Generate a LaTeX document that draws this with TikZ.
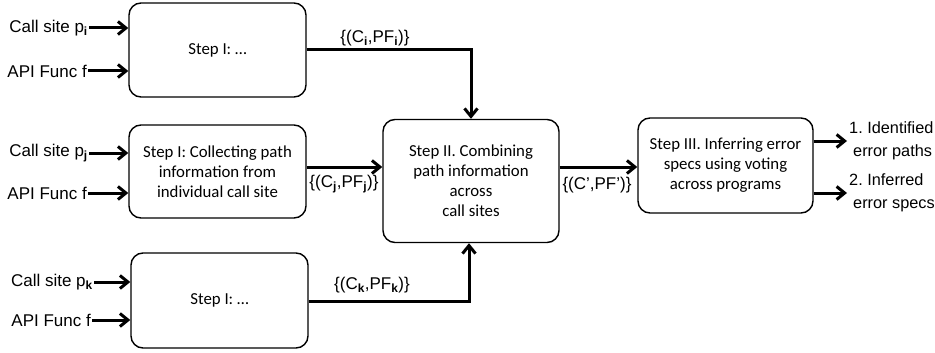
\documentclass[tikz,border=0pt]{standalone}
\usepackage{fontspec}
\setmainfont{Liberation Sans}
\newfontfamily\boxfont{Carlito}
\usetikzlibrary{arrows.meta,positioning}
\newcommand{\sub}[1]{\textsubscript{\textbf{#1}}}
\frenchspacing

\begin{document}
\begin{tikzpicture}[x=1pt,y=-1pt]
  \tikzset{stepbox/.style={draw,line width=1.4pt,rounded corners=12pt,align=center,
      font=\boxfont\fontsize{16.8}{20}\selectfont,inner sep=0pt},
    flow/.style={line width=3pt,-{Straight Barb[length=8pt,width=13pt,line width=3pt]}},
    lbl/.style={font=\fontsize{17}{21}\selectfont,inner sep=1pt},
    res/.style={font=\fontsize{16.3}{23}\selectfont,inner sep=0pt,anchor=west,align=left}}
  \useasboundingbox (0,0) rectangle (935,353);
  % step I boxes
  \node[stepbox,minimum width=177pt,minimum height=94pt] (S1-i) at (217.5,50) {Step I: \dots};
  \node[stepbox,minimum width=177pt,minimum height=93pt] (S1-j) at (217.5,171.5)
    {Step I: Collecting path\\information from\\individual call site};
  \node[stepbox,minimum width=177pt,minimum height=95pt] (S1-k) at (219.5,300.5) {Step I: \dots};
  % step II and III
  \node[stepbox,minimum width=176pt,minimum height=123pt] (S2) at (471,181)
    {Step II. Combining\\path information\\across\\call sites};
  \node[stepbox,minimum width=175pt,minimum height=95pt] (S3) at (725.5,165.5)
    {Step III. Inferring error\\specs using voting\\across programs};
  % inputs
  \node[lbl,anchor=east] (cs-i) at (89,28) {Call site p\sub{i}};
  \node[lbl,anchor=east] (af-i) at (88,71) {API Func f};
  \node[lbl,anchor=east] (cs-j) at (89,153) {Call site p\sub{j}};
  \node[lbl,anchor=east] (af-j) at (88,193) {API Func f};
  \node[lbl,anchor=east] (cs-k) at (94,282) {Call site p\sub{k}};
  \node[lbl,anchor=east] (af-k) at (92,320) {API Func f};
  \foreach \n/\b in {cs-i/S1-i,af-i/S1-i,cs-j/S1-j,af-j/S1-j,cs-k/S1-k,af-k/S1-k}
    \draw[flow] (\n) -- (\n -| \b.west);
  % path information
  \draw[flow] (S1-i.east) -| (S2.north);
  \node[lbl] (pf-i) at (375,38) {\{(C\sub{i},PF\sub{i})\}};
  \draw[flow] (S1-j.east |- 0,167) -- (S2.west |- 0,167);
  \node[lbl] (pf-j) at (344,184) {\{(C\sub{j},PF\sub{j})\}};
  \draw[flow] (S1-k.east |- 0,301) -| ([xshift=-2pt]S2.south);
  \node[lbl] (pf-k) at (372,285) {\{(C\sub{k},PF\sub{k})\}};
  \draw[flow] (S2.east |- 0,167) -- (S3.west |- 0,167);
  \node[lbl] (pf-c) at (597,185) {\{(C’,PF’)\}};
  % results
  \coordinate (r1) at (847,141);
  \coordinate (r2) at (847,193);
  \draw[flow] (S3.east |- r1) -- (r1);
  \draw[flow] (S3.east |- r2) -- (r2);
  \node[res] (res-1) at ([xshift=2pt]r1) {1. Identified\\\hspace{4pt}error paths};
  \node[res] (res-2) at ([xshift=2pt]r2) {2. Inferred\\\hspace{4pt}error specs};
\end{tikzpicture}
\end{document}
